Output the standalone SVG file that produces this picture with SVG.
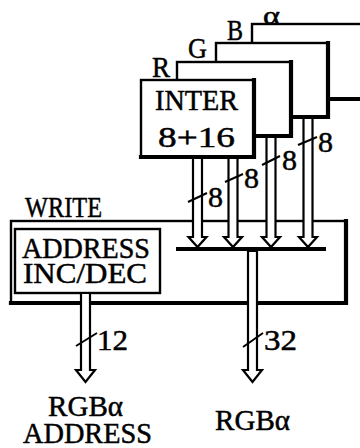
<svg xmlns="http://www.w3.org/2000/svg" width="360" height="448" viewBox="0 0 360 448">
<style>
.box{fill:#fff;stroke:#000;stroke-width:2.4}
.sh{fill:none;stroke:#000;stroke-width:4.2;stroke-linecap:square}
.arr{fill:#fff;stroke:#000;stroke-width:2.2;stroke-linejoin:miter}
.tick{stroke:#000;stroke-width:2;fill:none}
.bus{stroke:#000;stroke-width:4}
text{font-family:"Liberation Serif","DejaVu Serif",serif;font-size:30px;fill:#000;stroke:#000;stroke-width:0.5}
</style>
<rect width="360" height="448" fill="#fff"/>
<g id="write">
<rect class="box" x="11" y="221" width="335" height="82"/>
<path class="sh" d="M346 221V303H11"/>
<text x="25" y="217" textLength="77" lengthAdjust="spacingAndGlyphs">WRITE</text>
</g>
<g id="address">
<rect class="box" x="15" y="229" width="145" height="64"/>
<text x="22" y="258" textLength="128" lengthAdjust="spacingAndGlyphs">ADDRESS</text>
<text x="23" y="283" textLength="124" lengthAdjust="spacingAndGlyphs">INC/DEC</text>
</g>
<g id="connectors">
<line class="bus" x1="176" y1="249" x2="326" y2="249"/>
<polygon class="arr" points="193,150 193,237 188.5,237 197.5,247 206.5,237 202,237 202,150"/>
<polygon class="arr" points="228.5,130 228.5,237 224,237 233,247 242,237 237.5,237 237.5,130"/>
<polygon class="arr" points="266.5,110 266.5,237 262,237 271,247 280,237 275.5,237 275.5,110"/>
<polygon class="arr" points="303.5,92 303.5,237 299,237 308,247 317,237 312.5,237 312.5,92"/>
<polygon class="arr" points="248,251 248,370 243,370 252.5,382 262,370 257,370 257,251"/>
<polygon class="arr" points="81,293 81,370 76,370 85.5,382 95,370 90,370 90,293"/>
<line class="tick" x1="188" y1="202" x2="207" y2="193"/>
<line class="tick" x1="225" y1="182" x2="243" y2="174"/>
<line class="tick" x1="262" y1="165" x2="280" y2="156"/>
<line class="tick" x1="298" y1="145" x2="317" y2="137"/>
<line class="tick" x1="76" y1="346" x2="97" y2="333"/>
<line class="tick" x1="243" y1="347" x2="263" y2="333"/>
<text x="208" y="207" textLength="15" lengthAdjust="spacingAndGlyphs">8</text>
<text x="244" y="188" textLength="15" lengthAdjust="spacingAndGlyphs">8</text>
<text x="282" y="170" textLength="15" lengthAdjust="spacingAndGlyphs">8</text>
<text x="318" y="152" textLength="15" lengthAdjust="spacingAndGlyphs">8</text>
<text x="97" y="350" textLength="31" lengthAdjust="spacingAndGlyphs">12</text>
<text x="264" y="350" textLength="33" lengthAdjust="spacingAndGlyphs">32</text>
<text x="48" y="416" textLength="75" lengthAdjust="spacingAndGlyphs">RGBα</text>
<text x="23" y="443" textLength="129" lengthAdjust="spacingAndGlyphs">ADDRESS</text>
<text x="215" y="430" textLength="75" lengthAdjust="spacingAndGlyphs">RGBα</text>
</g>
<g id="box-alpha">
<rect class="box" x="252" y="24" width="120" height="75"/>
<path class="sh" d="M328 99H372"/>
<text x="263" y="23.5" style="font-size:26px" textLength="17" lengthAdjust="spacingAndGlyphs">α</text>
</g>
<g id="box-B">
<rect class="box" x="216" y="43" width="112" height="74"/>
<path class="sh" d="M328 43V117H290"/>
<text x="227" y="40" textLength="16" lengthAdjust="spacingAndGlyphs">B</text>
</g>
<g id="box-G">
<rect class="box" x="177" y="62" width="114" height="74"/>
<path class="sh" d="M291 62V136H254"/>
<text x="188" y="58" textLength="19" lengthAdjust="spacingAndGlyphs">G</text>
</g>
<g id="box-R">
<rect class="box" x="141" y="80" width="113" height="77"/>
<path class="sh" d="M254 80V157H141"/>
<text x="152" y="77" textLength="18" lengthAdjust="spacingAndGlyphs">R</text>
<text x="155" y="110" textLength="83" lengthAdjust="spacingAndGlyphs">INTER</text>
<text x="158" y="147" textLength="77" lengthAdjust="spacingAndGlyphs">8+16</text>
</g>
</svg>
